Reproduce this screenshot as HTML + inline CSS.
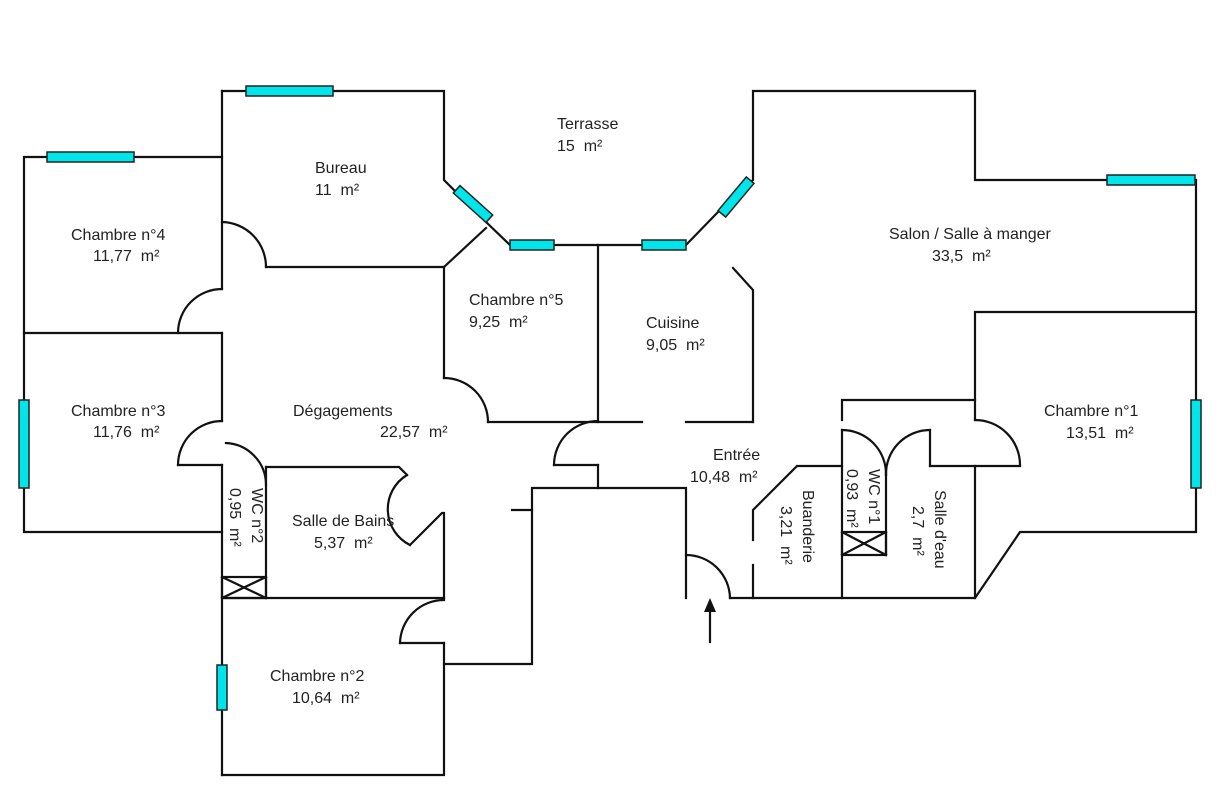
<!DOCTYPE html>
<html><head><meta charset="utf-8"><style>
html,body{margin:0;padding:0;background:#fff}
svg{display:block}
text{font-family:"Liberation Sans",Arial,sans-serif;font-size:16px;fill:#222;white-space:pre}
</style></head><body>
<svg width="1225" height="790" viewBox="0 0 1225 790" xmlns="http://www.w3.org/2000/svg" xml:space="preserve">
<g stroke="#111" stroke-width="2.2" fill="none" stroke-linecap="square">
<polyline points="222,91 444,91 444,180 486,222 510,245 598,245 642,245"/>
<polyline points="686,245 718,212 753,180 753,91 975,91 975,180 1196,180 1196,532 1020,532 975,598 730,598"/>
<line x1="444" y1="267" x2="266" y2="267"/>
<line x1="444" y1="267" x2="486" y2="228"/>
<line x1="222" y1="91" x2="222" y2="289"/>
<path d="M222,222 A45,45 0 0 1 266,267"/>
<polyline points="222,157 24,157 24,532 222,532"/>
<line x1="24" y1="333" x2="222" y2="333"/>
<path d="M222,289 A44,44 0 0 0 178,333"/>
<line x1="222" y1="333" x2="222" y2="421"/>
<path d="M222,421 A44,44 0 0 0 178,465"/>
<line x1="178" y1="465" x2="222" y2="465"/>
<line x1="222" y1="465" x2="222" y2="775"/>
<path d="M226,443 A42,42 0 0 1 266,485"/>
<line x1="266" y1="467" x2="266" y2="598"/>
<polyline points="266,467 399,467 407,475"/>
<path d="M407,475 A40,40 0 0 0 410,545"/>
<polyline points="410,545 442,513 444,513 444,598"/>
<rect x="222" y="577" width="44" height="21"/>
<line x1="222" y1="577" x2="266" y2="598"/><line x1="266" y1="577" x2="222" y2="598"/>
<line x1="222" y1="598" x2="444" y2="598"/>
<path d="M444,600 A44,44 0 0 0 400,643"/>
<line x1="400" y1="643" x2="444" y2="643"/>
<polyline points="444,643 444,775 222,775"/>
<polyline points="444,664 532,664 532,488 686,488 686,598"/>
<line x1="512" y1="510" x2="532" y2="510"/>
<line x1="598" y1="465" x2="598" y2="488"/>
<line x1="444" y1="267" x2="444" y2="378"/>
<path d="M444,378 A44,44 0 0 1 488,422"/>
<line x1="488" y1="422" x2="642" y2="422"/>
<line x1="686" y1="422" x2="753" y2="422"/>
<line x1="598" y1="245" x2="598" y2="422"/>
<path d="M598,421 A44,44 0 0 0 554,465"/>
<line x1="554" y1="465" x2="598" y2="465"/>
<polyline points="733,268 753,290 753,422"/>
<path d="M686,555 A44,44 0 0 1 730,598"/>
<polyline points="753,540 753,510 797,466 842,466"/>
<line x1="753" y1="565" x2="753" y2="598"/>
<polyline points="842,420 842,400 975,400"/>
<line x1="842" y1="430" x2="842" y2="598"/>
<path d="M842,430 A44,44 0 0 1 886,475"/>
<path d="M930,430 A44,44 0 0 0 886,475"/>
<line x1="930" y1="430" x2="930" y2="466"/>
<line x1="886" y1="466" x2="886" y2="555"/>
<rect x="842" y="532" width="44" height="23"/>
<line x1="842" y1="532" x2="886" y2="555"/><line x1="886" y1="532" x2="842" y2="555"/>
<line x1="930" y1="466" x2="1020" y2="466"/>
<polyline points="1196,312 975,312 975,420"/>
<path d="M975,420 A45,45 0 0 1 1020,465"/>
<line x1="975" y1="466" x2="975" y2="598"/>
<line x1="710" y1="642" x2="710" y2="612"/>
</g>
<polygon points="710,598 704,612 716,612" fill="#111"/>
<g fill="#00e5ea" stroke="#222" stroke-width="1.5">
<rect x="246" y="86" width="87" height="10"/>
<rect x="47" y="152" width="87" height="10"/>
<rect x="19" y="400" width="10" height="88"/>
<rect x="217" y="665" width="10" height="45"/>
<rect x="510" y="240" width="44" height="10"/>
<rect x="642" y="240" width="44" height="10"/>
<rect x="1107" y="175" width="88" height="10"/>
<rect x="1191" y="400" width="10" height="88"/>
<rect x="451" y="199" width="44" height="10" transform="rotate(42 473 204)"/>
<rect x="714" y="192" width="44" height="10" transform="rotate(-50 736 197)"/>
</g>
<text x="557" y="129">Terrasse</text><text x="557" y="151">15  m²</text>
<text x="315" y="173">Bureau</text><text x="315" y="195">11  m²</text>
<text x="71" y="240">Chambre n°4</text><text x="93" y="261">11,77  m²</text>
<text x="71" y="416">Chambre n°3</text><text x="93" y="437">11,76  m²</text>
<text x="293" y="416">Dégagements</text><text x="380" y="437">22,57  m²</text>
<text x="469" y="305">Chambre n°5</text><text x="469" y="327">9,25  m²</text>
<text x="646" y="328">Cuisine</text><text x="646" y="350">9,05  m²</text>
<text x="889" y="239">Salon / Salle à manger</text><text x="932" y="261">33,5  m²</text>
<text x="1044" y="416">Chambre n°1</text><text x="1066" y="438">13,51  m²</text>
<text x="713" y="460">Entrée</text><text x="690" y="482">10,48  m²</text>
<text x="292" y="526">Salle de Bains</text><text x="314" y="548">5,37  m²</text>
<text x="270" y="681">Chambre n°2</text><text x="292" y="703">10,64  m²</text>
<text transform="translate(252,488) rotate(90)">WC n°2</text>
<text transform="translate(230,488) rotate(90)">0,95  m²</text>
<text transform="translate(803,490) rotate(90)">Buanderie</text>
<text transform="translate(781,506) rotate(90)">3,21  m²</text>
<text transform="translate(869,469) rotate(90)">WC n°1</text>
<text transform="translate(847,469) rotate(90)">0,93  m²</text>
<text transform="translate(935,490) rotate(90)">Salle d'eau</text>
<text transform="translate(913,506) rotate(90)">2,7  m²</text>
</svg>
</body></html>
